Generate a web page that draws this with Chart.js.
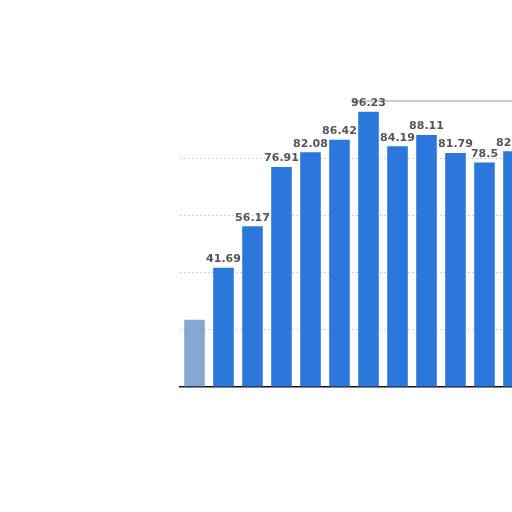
<!DOCTYPE html>
<html>
<head>
<meta charset="utf-8">
<script src="https://cdn.jsdelivr.net/npm/chart.js@4"></script>
<style>
  html, body { margin: 0; padding: 0; background: #fff; overflow: hidden; width: 512px; height: 512px; }
  #wrap { position: absolute; left: 0; top: 0; width: 560px; height: 512px; }
</style>
</head>
<body>
<div id="wrap"><canvas id="chart"></canvas></div>
<script>
	// values
	const categories = ['1', '2', '3', '4', '5', '6', '7', '8', '9', '10', '11', '12'];
	const values = [23.5, 41.69, 56.17, 76.91, 82.08, 86.42, 96.23, 84.19, 88.11, 81.79, 78.5, 82.45];
	const yTicks = [0, 20, 40, 60, 80, 100];

	const barColors = values.map((v, i) => i === 0 ? 'rgba(92, 138, 200, 0.75)' : '#2b77db');

	//top line + value labels
	const plugin = {
		id: 'extras',
		beforeDatasetsDraw: (chart) => {
			const ctx = chart.ctx;
			const a = chart.chartArea;
			const x0 = chart.scales.x.getPixelForValue(6) - 15; // only visible from the peak bar on
			ctx.save();
			ctx.strokeStyle = '#cccccc';
			ctx.lineWidth = 2;
			ctx.beginPath();
			ctx.moveTo(x0, a.top);
			ctx.lineTo(a.right, a.top);
			ctx.stroke();
			ctx.restore();
		},
		afterDatasetsDraw: (chart) => {
			const ctx = chart.ctx;
			const meta = chart.getDatasetMeta(0);
			ctx.save();
			ctx.font = 'bold 11px "DejaVu Sans", sans-serif';
			ctx.fillStyle = '#555';
			ctx.textAlign = 'center';
			ctx.textBaseline = 'bottom';
			meta.data.forEach((bar, i) => {
				if (i === 0) return; // hidden in the picture
				ctx.fillText(String(values[i]), bar.x, bar.y - 3);
			});
			ctx.restore();
		}
	};

	const ctx = document.getElementById('chart').getContext('2d');
	const Charts = new Chart(ctx, {
		type: 'bar',
		data: {
			labels: categories,
			datasets: [{
				data: values,
				backgroundColor: barColors,
				borderWidth: 0,
				categoryPercentage: 1,
				barPercentage: 0.71
			}]
		},
		options: {
			responsive: true,
			maintainAspectRatio: false,
			animation: false,
			layout: { padding: { left: 180, right: 32, top: 101, bottom: 117 } },
			plugins: { legend: { display: false }, tooltip: { enabled: false } },
			scales: {
				x: {
					grid: { display: false },
					ticks: { display: false },
					border: { display: true, color: '#111', width: 1.5 }
				},
				y: {
					min: 0,
					max: 100,
					afterBuildTicks: (axis) => { axis.ticks = yTicks.map(v => ({ value: v })); },
					ticks: { display: false },
					grid: {
						color: (c) => (c.tick.value === 0 || c.tick.value === 100) ? 'rgba(0,0,0,0)' : '#cfcfcf',
						lineWidth: 1,
						drawTicks: false
					},
					border: { display: false, dash: [2, 2] }
				}
			}
		},
		plugins: [plugin]
	});
</script>
</body>
</html>
